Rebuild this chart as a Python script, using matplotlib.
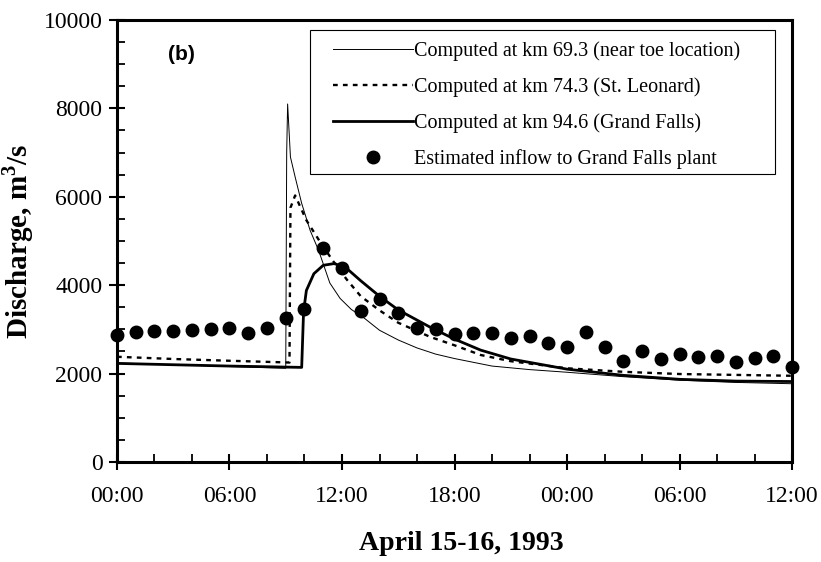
import numpy as np
import matplotlib
matplotlib.use('Agg')
import matplotlib.pyplot as plt
from matplotlib.patches import Rectangle
from matplotlib.ticker import MultipleLocator, FixedLocator

plt.rcParams['font.family'] = ['Liberation Serif', 'DejaVu Serif']
plt.rcParams['mathtext.fontset'] = 'custom'
plt.rcParams['mathtext.rm'] = 'Liberation Serif'
plt.rcParams['mathtext.bf'] = 'Liberation Serif:bold'

# hours since 00:00 April 15
hrs_693 = [0, 3, 6, 9.0, 9.05, 9.1, 9.25, 9.5, 9.85, 10.3, 10.75, 11.35, 11.9,
           12.5, 13.2, 14, 15, 16, 17, 18, 20, 22, 24, 27, 30, 33, 36]
q_693 = [2240, 2200, 2160, 2120, 7000, 8100, 6900, 6450, 5850, 5240, 4790, 4050, 3700,
         3450, 3250, 2980, 2760, 2580, 2440, 2340, 2170, 2090, 2030, 1930, 1850, 1800, 1770]

hrs_743 = [0, 3, 6, 9.2, 9.25, 9.5, 10.1, 10.8, 11.5, 12.25, 13, 14, 15, 16.7,
           18, 19.4, 21, 24, 27, 30, 33, 36]
q_743 = [2380, 2330, 2290, 2250, 5750, 6030, 5470, 5000, 4560, 4130, 3750, 3430, 3150, 2830,
         2640, 2420, 2280, 2120, 2040, 1990, 1970, 1950]

hrs_946 = [0, 3, 6, 9.85, 9.95, 10.1, 10.5, 11.0, 11.6, 12.25, 13, 14, 15, 16.7,
           18, 19.4, 21, 24, 27, 30, 33, 36]
q_946 = [2230, 2200, 2170, 2140, 3400, 3880, 4260, 4450, 4490, 4380, 4100, 3750, 3440, 3050,
         2780, 2530, 2330, 2100, 1960, 1870, 1830, 1820]

obs_hrs = list(range(37))
obs_q = [2870, 2930, 2960, 2960, 2990, 3000, 3020, 2910, 3040, 3250, 3460, 4830, 4400,
         3420, 3690, 3360, 3020, 3000, 2890, 2910, 2910, 2810, 2840, 2700, 2610, 2930,
         2610, 2290, 2500, 2320, 2440, 2370, 2400, 2270, 2350, 2400, 2160]

tick_labels = ['00:00', '06:00', '12:00', '18:00', '00:00', '06:00', '12:00']

fig = plt.figure(figsize=(8.21, 5.62), dpi=100)
ax = fig.add_axes([0.1425, 0.178, 0.8222, 0.7864])

ax.plot(hrs_693, q_693, color='black', lw=0.7,
        label='Computed at km 69.3 (near toe location)')
ax.plot(hrs_743, q_743, color='black', lw=1.7, linestyle=(0, (2, 2.2)),
        label='Computed at km 74.3 (St. Leonard)')
ax.plot(hrs_946, q_946, color='black', lw=2.0,
        label='Computed at km 94.6 (Grand Falls)')
ax.plot(obs_hrs, obs_q, 'o', color='black', ms=9, clip_on=False,
        label='Estimated inflow to Grand Falls plant')

ax.set_xlim(0, 36)
ax.set_ylim(0, 10000)
ax.xaxis.set_major_locator(FixedLocator(range(0, 37, 6)))
ax.set_xticklabels(tick_labels)
ax.xaxis.set_minor_locator(MultipleLocator(2))
ax.yaxis.set_major_locator(MultipleLocator(2000))
ax.yaxis.set_minor_locator(MultipleLocator(500))

ax.tick_params(which='major', direction='inout', length=11, width=1.5,
               labelsize=17, pad=5)
ax.tick_params(axis='x', which='major', pad=12)
ax.tick_params(which='minor', direction='in', length=6, width=1.3)
for s in ax.spines.values():
    s.set_linewidth(2.2)

ax.set_ylabel(r'Discharge, m$^{\mathbf{3}}$/s', fontsize=21, fontweight='bold')
ax.yaxis.set_label_coords(-0.12, 0.5)
ax.set_xlabel('April 15-16, 1993', fontsize=20, fontweight='bold', va='top')
ax.xaxis.set_label_coords(0.51, -0.157)

ax.text(0.075, 0.923, '(b)', transform=ax.transAxes, fontsize=15,
        fontweight='bold', family='Liberation Sans', va='center')

# legend frame drawn separately (uneven padding in the original)
ax.add_patch(Rectangle((0.286, 0.6516), 0.689, 0.3254, transform=ax.transAxes,
                       facecolor='white', edgecolor='black', lw=0.8, zorder=4.5))
leg = ax.legend(loc='upper left', bbox_to_anchor=(0.32, 0.952), borderaxespad=0,
                borderpad=0, fontsize=14.5, handlelength=3.98, handletextpad=0.05,
                labelspacing=0.81, frameon=False)
leg.set_zorder(5)

fig.savefig('out.png', dpi=100)
